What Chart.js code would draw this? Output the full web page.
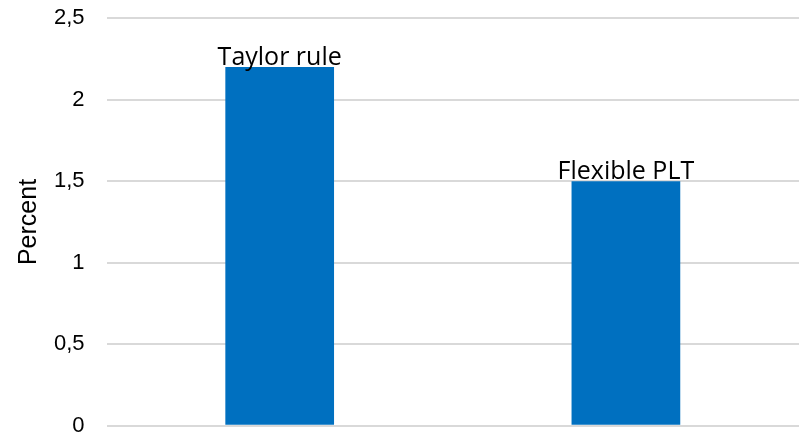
<!DOCTYPE html>
<html>
<head>
<meta charset="utf-8">
<script src="https://cdn.jsdelivr.net/npm/chart.js@4"></script>
<style>
  html, body { margin: 0; padding: 0; background: #fff; overflow: hidden; }
  #wrap { width: 799px; height: 478px; margin-top: -17px; }
</style>
</head>
<body>
<div id="wrap"><canvas id="chart"></canvas></div>
<script>
const categories = ['Taylor rule', 'Flexible PLT'];
const values = [2.2, 1.5];
const yTicks = [0, 0.5, 1, 1.5, 2, 2.5];

// Draws the category name just above each bar
const barLabels = {
  id: 'barLabels',
  afterDatasetsDraw(chart) {
    const ctx = chart.ctx;
    const meta = chart.getDatasetMeta(0);
    ctx.save();
    ctx.font = '25px "Open Sans", "Noto Sans", sans-serif';
    ctx.fillStyle = '#000';
    ctx.textAlign = 'center';
    ctx.textBaseline = 'alphabetic';
    meta.data.forEach((bar, i) => {
      ctx.fillText(categories[i], bar.x, bar.y - 2);
    });
    ctx.restore();
  }
};

const ctx = document.getElementById('chart').getContext('2d');
new Chart(ctx, {
  type: 'bar',
  data: {
    labels: categories,
    datasets: [{
      data: values,
      backgroundColor: '#0070C0',
      categoryPercentage: 1,
      barPercentage: 0.314
    }]
  },
  options: {
    responsive: true,
    maintainAspectRatio: false,
    animation: false,
    layout: { padding: { top: 0, right: -3, bottom: 0, left: 14 } },
    plugins: {
      legend: { display: false },
      tooltip: { enabled: false }
    },
    scales: {
      x: {
        display: false
      },
      y: {
        min: 0,
        max: 2.5,
        afterBuildTicks: axis => { axis.ticks = yTicks.map(v => ({ value: v })); },
        grid: { color: '#d9d9d9', lineWidth: 2, drawTicks: false },
        border: { display: false },
        title: {
          display: true,
          text: 'Percent',
          font: { family: 'Arial, "Liberation Sans"', size: 25 },
          color: '#000',
          padding: { top: 0, bottom: -12 }
        },
        ticks: {
          font: { family: 'Arial, "Liberation Sans"', size: 22 },
          color: '#000',
          padding: 22,
          callback: v => String(v).replace('.', ',')
        }
      }
    }
  },
  plugins: [barLabels]
});
</script>
</body>
</html>
